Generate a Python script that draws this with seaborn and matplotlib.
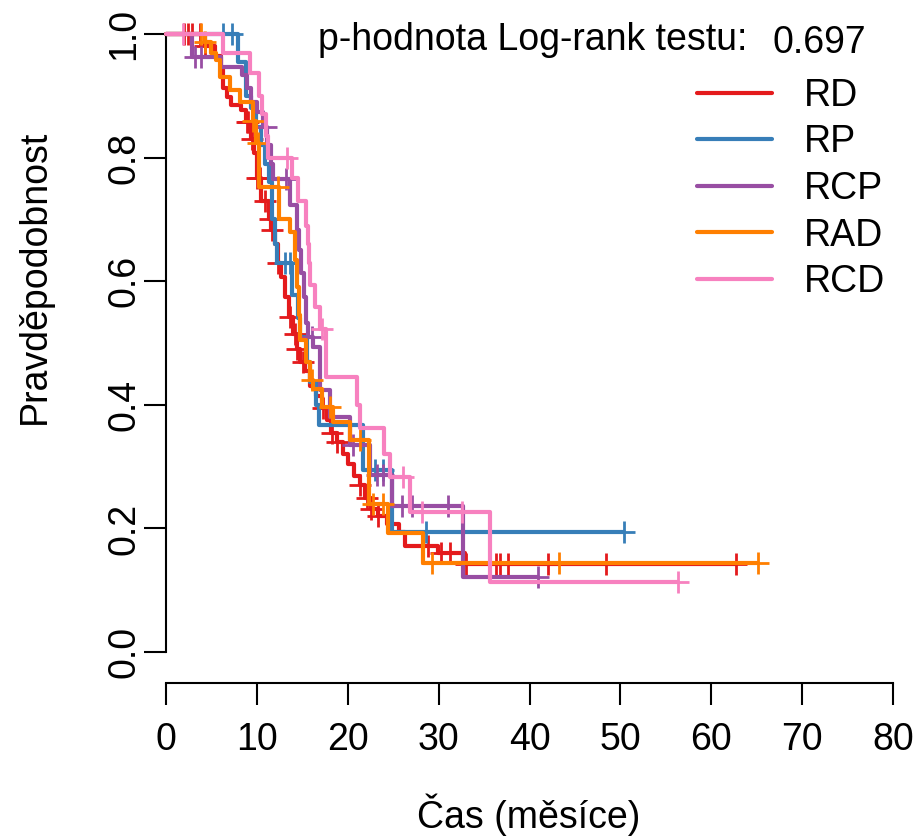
import numpy as np
import pandas as pd
import seaborn as sns
import matplotlib.pyplot as plt
from matplotlib.lines import Line2D

# Kaplan-Meier curves
groups = ["RD", "RP", "RCP", "RAD", "RCD"]
colors = ["#E41A1C", "#377EB8", "#984EA3", "#FF7F00", "#F781BF"]
p_value = 0.697

# step times (months) and survival after each step
rd_t = [4.3, 5.4, 6.1, 6.3, 6.7, 7.2, 8.3, 8.8, 9.3, 9.7, 10.0, 10.5, 11.3, 11.6,
        12.0, 12.3, 12.6, 13.1, 13.5, 14.0, 14.4, 14.8, 15.3, 15.8, 16.5, 17.2,
        17.7, 18.2, 18.8, 19.5, 20.0, 20.7, 21.3, 21.9, 22.6, 23.3, 24.3, 25.6,
        26.3, 29.9, 32.9]
rd_s = [0.980, 0.965, 0.945, 0.913, 0.898, 0.885, 0.877, 0.857, 0.830, 0.807,
        0.767, 0.730, 0.700, 0.683, 0.660, 0.630, 0.607, 0.575, 0.542, 0.515,
        0.490, 0.470, 0.455, 0.430, 0.415, 0.395, 0.375, 0.355, 0.340, 0.320,
        0.305, 0.285, 0.270, 0.250, 0.232, 0.220, 0.208, 0.195, 0.171, 0.160,
        0.142]
rd_cens = [2.0, 2.4, 2.9, 3.7, 4.3, 8.9, 9.0, 9.5, 10.0, 10.3, 10.9, 11.4, 11.7,
           12.3, 13.6, 14.2, 14.4, 15.1, 17.3, 18.3, 18.8, 21.3, 22.1, 22.6, 23.3,
           28.8, 30.3, 31.2, 33.0, 36.3, 36.8, 37.6, 42.0, 48.4, 62.7]

rp_t = [7.9, 8.8, 9.4, 9.9, 10.4, 10.9, 11.3, 11.7, 12.0, 12.2, 13.9, 14.5, 14.8,
        15.5, 15.8, 16.5, 16.8, 21.7, 24.9]
rp_s = [0.955, 0.900, 0.880, 0.850, 0.820, 0.790, 0.760, 0.700, 0.660, 0.630,
        0.578, 0.540, 0.510, 0.470, 0.437, 0.400, 0.367, 0.295, 0.194]
rp_cens = [6.3, 7.3, 13.1, 13.6, 23.0, 23.9, 28.6, 50.4]

rcp_t = [2.9, 6.1, 8.4, 8.9, 9.4, 10.0, 10.7, 11.1, 11.5, 11.8, 13.6, 14.4, 14.6,
         14.9, 15.2, 15.4, 15.6, 16.2, 16.9, 17.0, 18.0, 20.3, 22.4, 24.9, 32.7]
rcp_s = [0.963, 0.947, 0.934, 0.913, 0.890, 0.874, 0.850, 0.820, 0.790, 0.765,
         0.723, 0.683, 0.650, 0.613, 0.575, 0.532, 0.510, 0.494, 0.455, 0.424,
         0.380, 0.335, 0.286, 0.236, 0.121]
rcp_cens = [3.2, 3.8, 11.0, 13.2, 16.1, 20.6, 23.2, 23.9, 26.0, 27.1, 31.0, 40.9]

rad_t = [4.3, 5.0, 5.5, 5.9, 7.0, 8.1, 9.6, 9.9, 10.2, 12.4, 13.6, 14.2, 14.4,
         14.6, 14.8, 15.4, 15.9, 16.2, 17.2, 18.4, 20.2, 22.3, 24.4, 28.3]
rad_s = [0.987, 0.970, 0.958, 0.930, 0.910, 0.890, 0.860, 0.824, 0.752, 0.700,
         0.680, 0.634, 0.590, 0.545, 0.505, 0.470, 0.440, 0.426, 0.396, 0.372,
         0.343, 0.240, 0.193, 0.144]
rad_cens = [3.8, 4.3, 9.6, 10.1, 12.3, 16.1, 18.0, 21.3, 22.8, 23.9, 29.3, 43.3, 65.1]

rcd_t = [6.3, 9.2, 10.2, 10.6, 11.0, 11.2, 13.9, 14.5, 15.4, 15.6, 15.7, 15.8,
         16.4, 16.9, 17.6, 21.0, 21.3, 24.0, 24.7, 26.8, 35.7]
rcd_s = [0.969, 0.937, 0.900, 0.870, 0.835, 0.800, 0.767, 0.730, 0.690, 0.660,
         0.630, 0.594, 0.558, 0.523, 0.445, 0.400, 0.362, 0.320, 0.283, 0.226,
         0.113]
rcd_cens = [1.9, 13.3, 17.2, 26.1, 28.2, 32.6, 56.3]

curves = {
    "RD": (rd_t, rd_s, rd_cens),
    "RP": (rp_t, rp_s, rp_cens),
    "RCP": (rcp_t, rcp_s, rcp_cens),
    "RAD": (rad_t, rad_s, rad_cens),
    "RCD": (rcd_t, rcd_s, rcd_cens),
}

sns.set_theme(style="white")
plt.rcParams["font.family"] = ["Liberation Sans", "DejaVu Sans"]
plt.rcParams["text.color"] = "black"
plt.rcParams["xtick.color"] = "black"
plt.rcParams["ytick.color"] = "black"
FS = 27
LW = 3.0

fig = plt.figure(figsize=(9.13, 8.36), dpi=100)
ax = fig.add_axes([166 / 913, 153 / 836, 727 / 913, 661.4 / 836])

for i, (name, col) in enumerate(zip(groups, colors)):
    t, s, cens = curves[name]
    end = max(max(cens), t[-1])
    df = pd.DataFrame({"time": [0.0] + list(t) + [end],
                       "surv": [1.0] + list(s) + [s[-1]]})
    sns.lineplot(data=df, x="time", y="surv", color=col, drawstyle="steps-post",
                 estimator=None, sort=False, linewidth=LW, ax=ax,
                 zorder=3 + 2 * i, clip_on=False)
    st = np.array([0.0] + list(t))
    sv = np.array([1.0] + list(s))
    idx = np.searchsorted(st, np.array(cens), side="right") - 1
    ax.plot(cens, sv[idx], linestyle="none", marker="+", markersize=16,
            markeredgewidth=2.0, color=col, zorder=4 + 2 * i, clip_on=False)

ax.set_xlim(0, 80)
ax.set_ylim(-0.05, 1.02)
ax.set_xticks(np.arange(0, 81, 10))
ax.set_yticks([0.0, 0.2, 0.4, 0.6, 0.8, 1.0])
ax.set_yticklabels(["0.0", "0.2", "0.4", "0.6", "0.8", "1.0"], rotation=90, va="center")
ax.set_xlabel("")
ax.set_ylabel("")
for side in ["top", "right"]:
    ax.spines[side].set_visible(False)
ax.spines["left"].set_bounds(0, 1)
ax.spines["bottom"].set_bounds(0, 80)
for side in ["left", "bottom"]:
    ax.spines[side].set_linewidth(1.5)
    ax.spines[side].set_color("black")
ax.tick_params(axis="both", which="major", direction="out", length=16, width=1.5,
               colors="black", labelcolor="black", labelsize=FS, left=True, bottom=True)
ax.tick_params(axis="x", pad=12)
ax.tick_params(axis="y", pad=1)

handles = [Line2D([0], [0], color=c, lw=LW) for c in colors]
leg = ax.legend(handles, groups, loc="upper left",
                bbox_to_anchor=(697 / 913, 1 - 78 / 836),
                bbox_transform=fig.transFigure, frameon=False, fontsize=FS,
                handlelength=2.0, handletextpad=0.85, labelspacing=0.28,
                borderpad=0, borderaxespad=0)
for txt in leg.get_texts():
    txt.set_color("black")

fig.text(318 / 913, 1 - 50 / 836, "p-hodnota Log-rank testu:", fontsize=FS,
         ha="left", va="baseline", color="black")
fig.text(772 / 913, 1 - 53 / 836, f"{p_value:.3f}", fontsize=FS,
         ha="left", va="baseline", color="black")
fig.text(529 / 913, 1 - 828 / 836, "Čas (měsíce)", fontsize=FS,
         ha="center", va="baseline", color="black")
fig.text(35 / 913, 1 - 277 / 836, "Pravděpodobnost", fontsize=FS,
         rotation=90, ha="center", va="center", color="black")

fig.savefig("out.png", dpi=100)
